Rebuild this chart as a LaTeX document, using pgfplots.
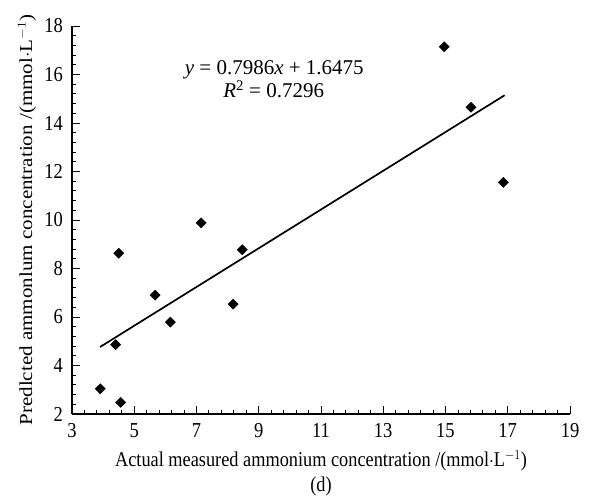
\documentclass[border=0pt]{standalone}
\usepackage{graphicx}
\usepackage{pgfplots}
\pgfplotsset{compat=1.18}
\usepackage{fontspec}
\setmainfont{Liberation Serif}
\begin{document}
\fontsize{18.5pt}{22pt}\selectfont
\begin{tikzpicture}
\useasboundingbox (-72pt,-83pt) rectangle (523pt,414pt);
\begin{axis}[
  at={(0pt,0pt)}, anchor=south west,
  scale only axis,
  width=498pt, height=388pt,
  xmin=3, xmax=19, ymin=2, ymax=18,
  xtick={3,5,...,19}, ytick={2,4,...,18},
  minor x tick num=4, minor y tick num=4,
  axis lines=left,
  axis line style={-, line width=1.2pt},
  tick align=inside,
  major tick length=8pt, minor tick length=4pt,
  every tick/.style={black, line width=0.9pt},
  /pgf/number format/assume math mode=true,
  xticklabel={\scalebox{1}[1.15]{\pgfmathprintnumber{\tick}}},
  yticklabel={\scalebox{1}[1.15]{\pgfmathprintnumber{\tick}}},
  xticklabel style={font=\fontsize{18.5pt}{22pt}\selectfont, inner sep=0pt, anchor=north, yshift=-9pt},
  yticklabel style={font=\fontsize{18.5pt}{22pt}\selectfont, inner sep=0pt, anchor=east, xshift=-9pt},
  xlabel={\scalebox{1}[1.15]{Actual measured ammonium concentration /(mmol$\cdot$L$^{-1}$)}},
  xlabel style={font=\fontsize{18.3pt}{22pt}\selectfont, at={(axis description cs:0.5,-0.1366)}, anchor=base, inner sep=0pt},
  ylabel={\scalebox{1.15}[1]{Predlcted ammonlum concentration /(mmol$\cdot$L$^{-1}$)}},
  ylabel style={font=\fontsize{18.3pt}{22pt}\selectfont, at={(axis description cs:-0.0803,0.5)}, rotate=0, anchor=base, inner sep=0pt},
  clip=false,
]
\addplot[only marks, mark=square*, mark size=3.6pt, mark options={fill=black, draw=black, rotate=45}] coordinates {
(3.91,3.04) (4.56,2.48) (4.40,4.86) (4.50,8.63) (5.67,6.90) (6.16,5.79)
(7.15,9.88) (8.18,6.53) (8.47,8.77) (14.96,17.14) (15.82,14.65) (16.86,11.55)
};
\addplot[black, line width=1.7pt] coordinates {(3.9,4.762) (16.9,15.144)};
\node[font=\fontsize{21pt}{24pt}\selectfont, anchor=base, inner sep=0pt] at (axis cs:9.50,15.98) {\textit{y} = 0.7986\textit{x} + 1.6475};
\node[font=\fontsize{21pt}{24pt}\selectfont, anchor=base, inner sep=0pt] at (axis cs:9.48,15.04) {\textit{R}\textsuperscript{2} = 0.7296};
\node[font=\fontsize{18.3pt}{22pt}\selectfont, anchor=base, inner sep=0pt] at (axis description cs:0.5,-0.201) {\scalebox{1}[1.15]{(d)}};
\end{axis}
\end{tikzpicture}
\end{document}
